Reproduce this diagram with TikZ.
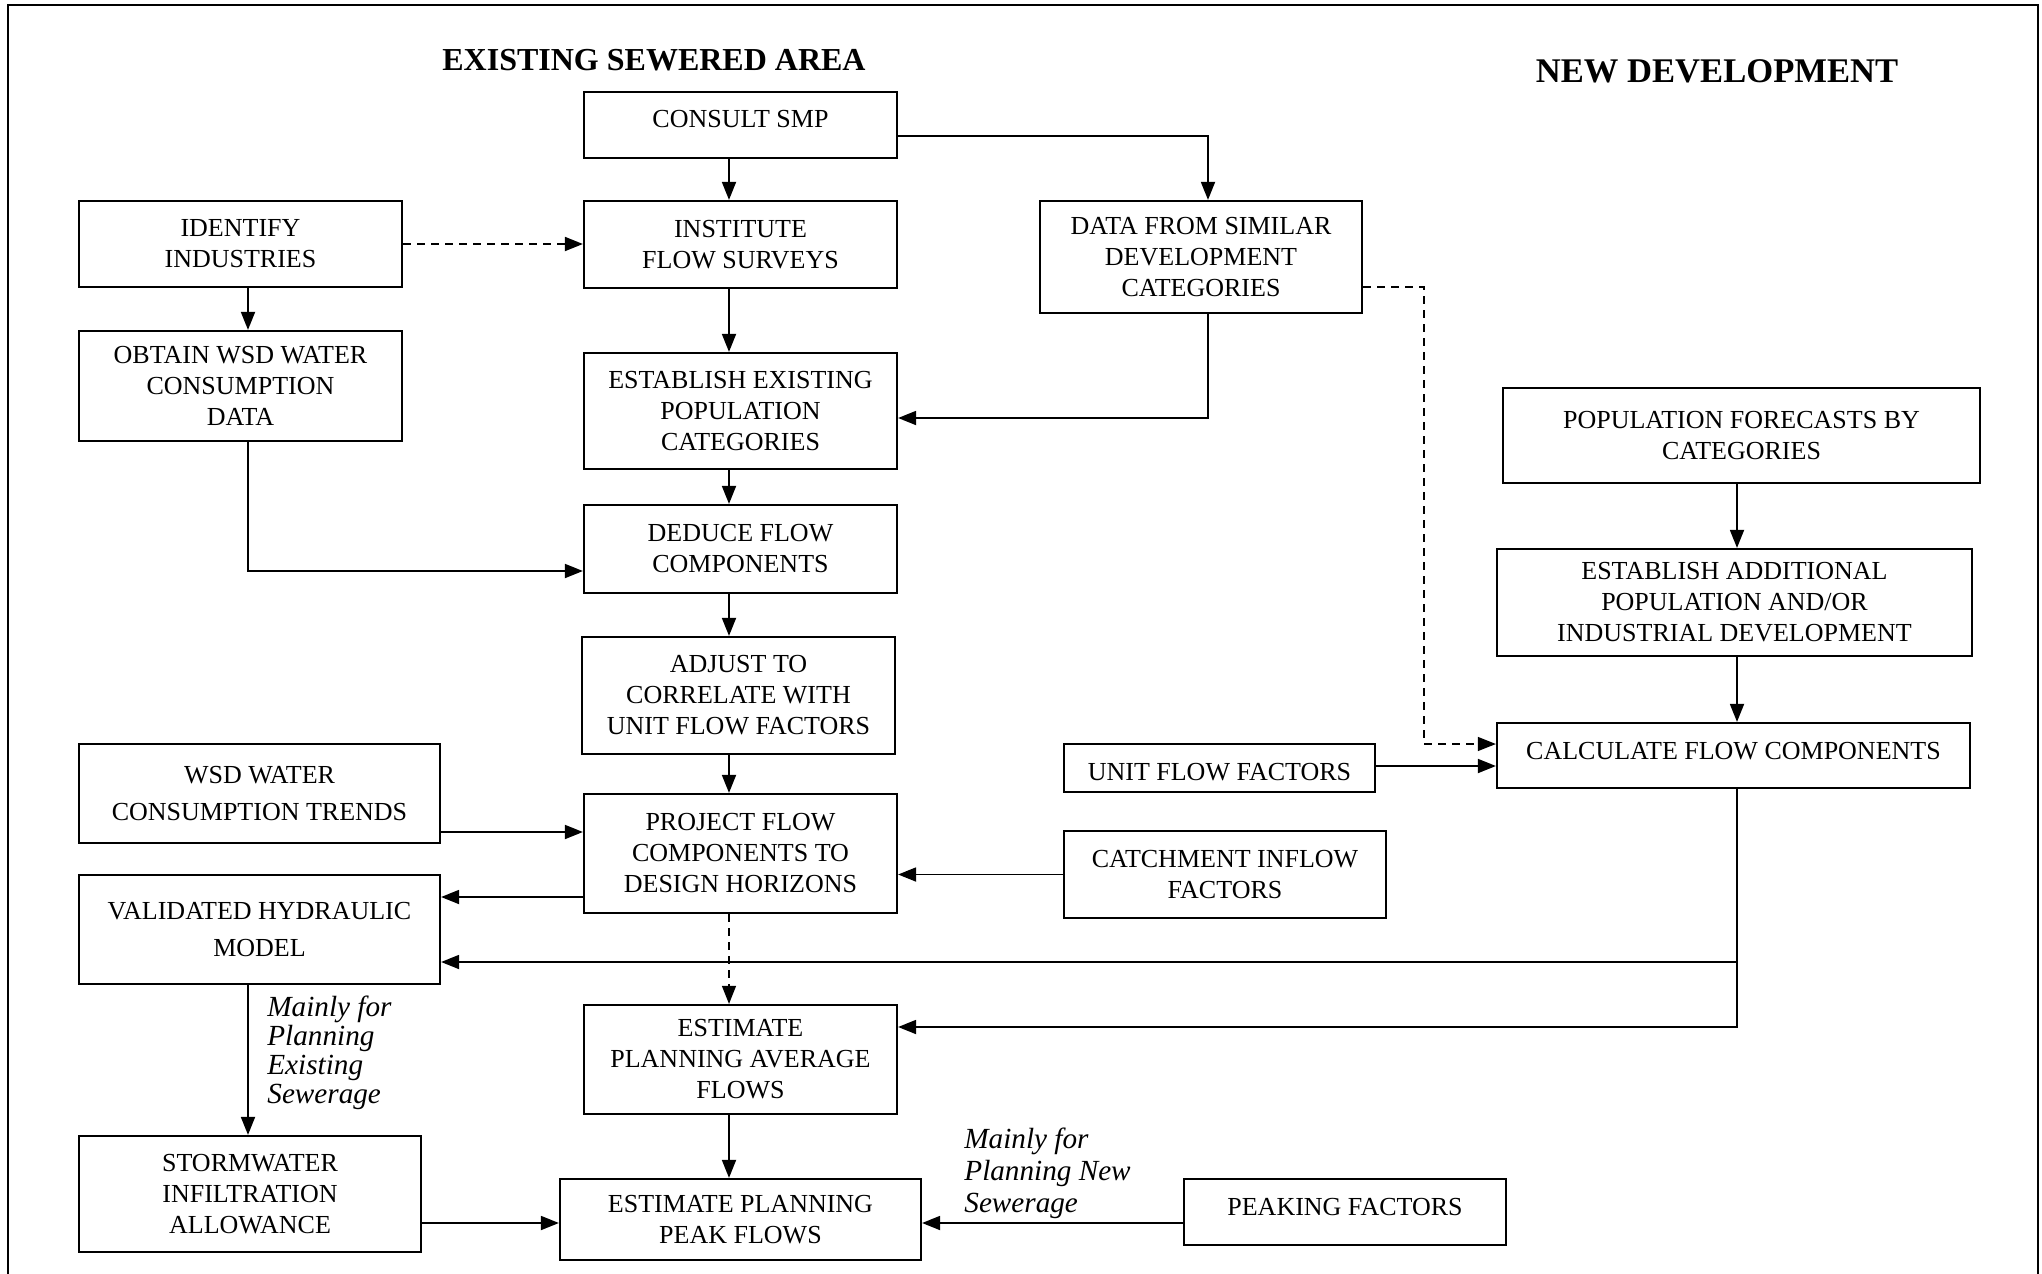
\documentclass[tikz,border=0pt]{standalone}
\usepackage{fontspec}
\setmainfont{Liberation Serif}
\usetikzlibrary{arrows.meta,calc}
\tikzset{
 box/.style={draw, line width=1.1pt, inner sep=0pt, align=center, font=\fontsize{13}{15.5}\selectfont},
 arr/.style={line width=0.9pt, -{Triangle[length=9pt,width=7pt]}},
 dsh/.style={arr, dash pattern=on 4pt off 3pt},
 ttl/.style={font=\bfseries, inner sep=0pt, anchor=base},
 lbl/.style={align=left, inner sep=0pt, anchor=north west},
}
\newcommand\bx[6]{\node[box, minimum width={(#4-#2)*0.5pt}, minimum height={(#5-#3)*0.5pt}] (#1) at ({(#2+#4)/2},{(#3+#5)/2}) {#6};}
\newcommand\rb[2]{\raisebox{#1}[\height][\depth]{#2}}
\begin{document}
\begin{tikzpicture}[x=0.5pt,y=-0.5pt]
\useasboundingbox (0,0) rectangle (2042,1274);
\draw[line width=1pt] (8,1274) -- (8,5) -- (2038,5) -- (2038,1274);
\node[ttl, font=\fontsize{16}{19}\selectfont\bfseries] (t1) at (654,70) {EXISTING SEWERED AREA};
\node[ttl, font=\fontsize{17.3}{20}\selectfont\bfseries] (t2) at (1717,83) {NEW DEVELOPMENT};
\bx{consult}{584}{92}{897}{158}{\rb{3pt}{CONSULT SMP}}
\bx{institute}{584}{201}{897}{288}{INSTITUTE\\FLOW SURVEYS}
\bx{identify}{79}{201}{402}{287}{IDENTIFY\\INDUSTRIES}
\bx{obtain}{79}{331}{402}{441}{OBTAIN WSD WATER\\CONSUMPTION\\DATA}
\bx{estexist}{584}{353}{897}{469}{ESTABLISH EXISTING\\POPULATION\\CATEGORIES}
\bx{deduce}{584}{505}{897}{593}{DEDUCE FLOW\\COMPONENTS}
\bx{adjust}{582}{637}{895}{754}{ADJUST TO\\CORRELATE WITH\\UNIT FLOW FACTORS}
\bx{wsd}{79}{744}{440}{843}{WSD WATER\\[3pt]CONSUMPTION TRENDS}
\bx{project}{584}{794}{897}{913}{PROJECT FLOW\\COMPONENTS TO\\DESIGN HORIZONS}
\bx{validated}{79}{875}{440}{984}{VALIDATED HYDRAULIC\\[3pt]MODEL}
\bx{estavg}{584}{1005}{897}{1114}{ESTIMATE\\PLANNING AVERAGE\\FLOWS}
\bx{storm}{79}{1136}{421}{1252}{STORMWATER\\INFILTRATION\\ALLOWANCE}
\bx{peak}{560}{1179}{921}{1260}{ESTIMATE PLANNING\\PEAK FLOWS}
\bx{data}{1040}{201}{1362}{313}{DATA FROM SIMILAR\\DEVELOPMENT\\CATEGORIES}
\bx{popfc}{1503}{388}{1980}{483}{POPULATION FORECASTS BY\\CATEGORIES}
\bx{estadd}{1497}{549}{1972}{656}{ESTABLISH ADDITIONAL\\POPULATION AND/OR\\INDUSTRIAL DEVELOPMENT}
\bx{calc}{1497}{723}{1970}{788}{\rb{2pt}{CALCULATE FLOW COMPONENTS}}
\bx{unit}{1064}{744}{1375}{792}{\rb{-2pt}{UNIT FLOW FACTORS}}
\bx{catch}{1064}{831}{1386}{918}{CATCHMENT INFLOW\\FACTORS}
\bx{peaking}{1184}{1179}{1506}{1245}{\rb{2.5pt}{PEAKING FACTORS}}
\node[lbl, font=\fontsize{14.6}{14.5}\selectfont\itshape] (l1) at (267,996) {Mainly for\\Planning\\Existing\\Sewerage};
\node[lbl, font=\fontsize{14.6}{16}\selectfont\itshape] (l2) at (964,1128) {Mainly for\\Planning New\\Sewerage};
\coordinate (cx) at (729,0);
\coordinate (lx) at (248,0);
\coordinate (rx) at (1737,0);
\coordinate (b1) at (1208,136);
\coordinate (b2) at (1208,418);
\coordinate (b3) at (1424,287);
\coordinate (b4) at (1424,744);
\coordinate (b5) at (0,766);
\coordinate (b6) at (248,571);
\coordinate (b7) at (0,832);
\coordinate (b8) at (0,897);
\coordinate (b9) at (1737,962);
\coordinate (b10) at (1737,1027);
\coordinate (b11) at (0,1223);
\draw[arr] (consult.south -| cx) -- (institute.north -| cx);
\draw[arr] (consult.east |- b1) -| (b1 |- data.north);
\draw[dsh] (identify.east) -- (institute.west |- identify.east);
\draw[arr] (identify.south -| lx) -- (obtain.north -| lx);
\draw[arr] (institute.south -| cx) -- (estexist.north -| cx);
\draw[arr] (data.south -| b2) -- (b2) -- (estexist.east |- b2);
\draw[dsh, line width=0.6pt] (data.east |- b3) -- (b3) -- (b4) -- (calc.west |- b4);
\draw[arr] (unit.east |- b5) -- (calc.west |- b5);
\draw[arr] (popfc.south -| rx) -- (estadd.north -| rx);
\draw[arr] (estadd.south -| rx) -- (calc.north -| rx);
\draw[arr] (estexist.south -| cx) -- (deduce.north -| cx);
\draw[arr] (obtain.south -| b6) -- (b6) -- (deduce.west |- b6);
\draw[arr] (deduce.south -| cx) -- (adjust.north -| cx);
\draw[arr] (adjust.south -| cx) -- (project.north -| cx);
\draw[arr] (wsd.east |- b7) -- (project.west |- b7);
\draw[arr] (catch.west) -- (project.east |- catch.west);
\draw[arr] (project.west |- b8) -- (validated.east |- b8);
\draw[arr] (calc.south -| b10) -- (b10) -- (estavg.east |- b10);
\draw[arr] (b9) -- (validated.east |- b9);
\draw[dsh, line width=0.6pt] (project.south -| cx) -- (estavg.north -| cx);
\draw[arr] (validated.south -| lx) -- (storm.north -| lx);
\draw[arr] (estavg.south -| cx) -- (peak.north -| cx);
\draw[arr] (storm.east |- b11) -- (peak.west |- b11);
\draw[arr] (peaking.west |- b11) -- (peak.east |- b11);
\end{tikzpicture}
\end{document}
